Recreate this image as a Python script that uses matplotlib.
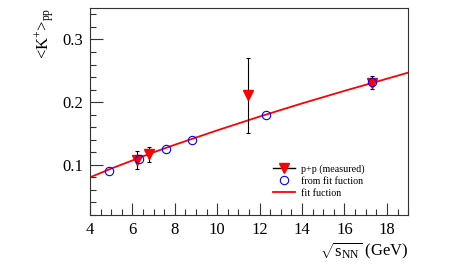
import matplotlib
matplotlib.use("Agg")
import matplotlib.pyplot as plt
from matplotlib.lines import Line2D
from matplotlib.ticker import MultipleLocator

plt.rcParams['font.family'] = ['Liberation Serif', 'DejaVu Serif']
plt.rcParams['mathtext.fontset'] = 'custom'
plt.rcParams['mathtext.rm'] = 'Liberation Serif'
plt.rcParams['mathtext.it'] = 'Liberation Serif:italic'

# measured p+p points
meas_x = [6.2, 6.8, 11.45, 17.3]
meas_y = [0.108, 0.117, 0.211, 0.231]
meas_err = [0.014, 0.012, 0.060, 0.010]

# values from the fit function
fitpts_x = [4.9, 6.3, 7.6, 8.8, 12.3, 17.3]
fitpts_y = [0.090, 0.109, 0.126, 0.140, 0.180, 0.232]

# fit curve
curve_x = [4, 5, 6, 7, 8, 10, 12, 14, 16, 19]
curve_y = [0.080, 0.094, 0.107, 0.120, 0.132, 0.155, 0.177, 0.198, 0.218, 0.247]

fig = plt.figure(figsize=(4.54, 2.69), dpi=100)
ax = fig.add_axes([0.198, 0.2007, 0.701, 0.7693])

ax.plot(curve_x, curve_y, color='red', lw=1.3, zorder=2)
ax.errorbar(meas_x, meas_y, yerr=meas_err, fmt='none', ecolor='black',
            elinewidth=0.8, capsize=1.5, capthick=0.8, zorder=3)
ax.plot(meas_x, meas_y, 'v', color='red', ms=7.5, zorder=4)
ax.plot(fitpts_x, fitpts_y, 'o', mfc='none', mec='blue', ms=6, mew=0.8, zorder=5)

ax.set_xlim(4, 19)
ax.set_ylim(0.02, 0.35)
ax.xaxis.set_major_locator(MultipleLocator(2))
ax.xaxis.set_minor_locator(MultipleLocator(0.5))
ax.yaxis.set_major_locator(MultipleLocator(0.1))
ax.yaxis.set_minor_locator(MultipleLocator(0.02))
ax.tick_params(which='both', direction='in', top=False, right=False,
               labelsize=12, width=0.8, color='#333333')
ax.tick_params(which='major', length=9, pad=5)
ax.tick_params(which='minor', length=4.5)
for s in ax.spines.values():
    s.set_linewidth(0.8)
    s.set_color('#333333')

ax.set_yticks([0.1, 0.2, 0.3])
ax.set_yticklabels(['0.1', '0.2', '0.3'])

fig.text(0.099, 0.97, r'<K$^{+}$>$_{\mathrm{pp}}$', rotation=90, ha='center',
         va='top', fontsize=12)
fig.text(0.899, 0.03, r'$\sqrt{\mathrm{s}_{\mathrm{NN}}}$ (GeV)', ha='right',
         va='bottom', fontsize=12)

handles = [
    Line2D([], [], color='black', lw=1, marker='v', mfc='red', mec='red', ms=7.5),
    Line2D([], [], ls='none', marker='o', mfc='none', mec='blue', ms=6, mew=0.8),
    Line2D([], [], color='red', lw=1.3),
]
labels = ['p+p (measured)', 'from fit fuction', 'fit fuction']
ax.legend(handles, labels, loc='upper left', bbox_to_anchor=(0.575, 0.245),
          frameon=False, fontsize=7.2, handlelength=2.2, handletextpad=0.6,
          labelspacing=0.3, borderpad=0, borderaxespad=0)

fig.savefig('out.png', dpi=100)
